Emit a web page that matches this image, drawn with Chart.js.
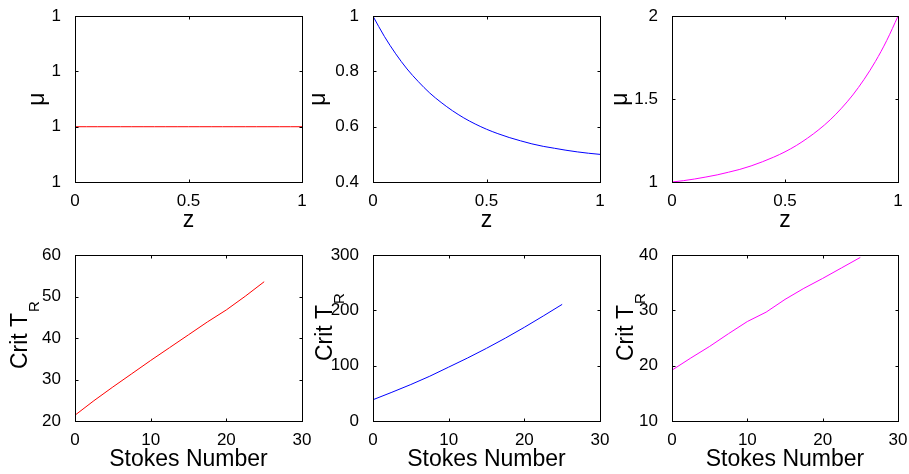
<!DOCTYPE html>
<html>
<head>
<meta charset="utf-8">
<script src="https://cdn.jsdelivr.net/npm/chart.js@4.4.1/dist/chart.umd.min.js"></script>
<style>
  body { margin: 0; background: #fff; }
  #wrap { position: relative; width: 909px; height: 474px; }
  #wrap canvas { position: absolute; }
</style>
</head>
<body>
<div id="wrap">
  <canvas id="muConstChart" width="313" height="234" style="left:0px;top:0px"></canvas>
  <canvas id="muDecayChart" width="313" height="234" style="left:298px;top:0px"></canvas>
  <canvas id="muGrowChart" width="312" height="234" style="left:597px;top:0px"></canvas>
  <canvas id="critRedChart" width="313" height="234" style="left:0px;top:239px"></canvas>
  <canvas id="critBlueChart" width="313" height="234" style="left:298px;top:239px"></canvas>
  <canvas id="critMagentaChart" width="312" height="234" style="left:597px;top:239px"></canvas>
</div>
<script>
// viscosity profiles mu(z)
var zVals = [0, 0.05, 0.1, 0.15, 0.2, 0.25, 0.3, 0.35, 0.4, 0.45, 0.5,
             0.55, 0.6, 0.65, 0.7, 0.75, 0.8, 0.85, 0.9, 0.95, 1];
var muConst = [1, 1, 1, 1, 1, 1, 1, 1, 1, 1, 1, 1, 1, 1, 1, 1, 1, 1, 1, 1, 1];
var muDecay = [1.000, 0.927, 0.864, 0.809, 0.763, 0.722, 0.688, 0.658, 0.632, 0.610, 0.591,
               0.575, 0.561, 0.549, 0.538, 0.529, 0.522, 0.515, 0.509, 0.504, 0.500];
var muGrow = [1.000, 1.008, 1.018, 1.030, 1.043, 1.059, 1.076, 1.097, 1.122, 1.150, 1.182,
              1.220, 1.265, 1.316, 1.375, 1.445, 1.525, 1.619, 1.727, 1.853, 2.000];

// critical T_R against Stokes number
var stokes = [0, 2.5, 5, 7.5, 10, 12.5, 15, 17.5, 20, 22.5, 25];
var critRed = [21.4, 24.9, 28.2, 31.4, 34.6, 37.7, 40.8, 43.9, 46.8, 50.1, 53.6];
var critBlue = [38.5, 52, 66, 81, 97.5, 114, 131.5, 150, 169.5, 190, 211];
var critMagenta = [19.2, 21.4, 23.5, 25.8, 28.0, 29.7, 32.0, 34.0, 35.8, 37.7, 39.6];

// tick values
var zTicks = [0, 0.5, 1];
var stokesTicks = [0, 10, 20, 30];
var muConstTicks = [0.9999, 1, 1.0001, 1.0002];
var muDecayTicks = [0.4, 0.6, 0.8, 1];
var muGrowTicks = [1, 1.5, 2];
var critRedTicks = [20, 30, 40, 50, 60];
var critBlueTicks = [0, 100, 200, 300];
var critMagentaTicks = [10, 20, 30, 40];

var FONT = '"Liberation Sans", Arial, Helvetica, sans-serif';

// axes box with inward tick marks on all four sides
var boxPlugin = {
  id: 'box',
  afterDraw: function (chart) {
    var ctx = chart.ctx, a = chart.chartArea;
    var sx = chart.scales.x, sy = chart.scales.y;
    var l = Math.round(a.left) + 0.5, r = Math.round(a.right) + 0.5;
    var t = Math.round(a.top) + 0.5, b = Math.round(a.bottom) + 0.5;
    ctx.save();
    ctx.strokeStyle = '#000';
    ctx.lineWidth = 1;
    ctx.beginPath();
    sx.ticks.forEach(function (tk) {
      var px = Math.round(sx.getPixelForValue(tk.value)) + 0.5;
      ctx.moveTo(px, b); ctx.lineTo(px, b - 3);
      ctx.moveTo(px, t); ctx.lineTo(px, t + 3);
    });
    sy.ticks.forEach(function (tk) {
      var py = Math.round(sy.getPixelForValue(tk.value)) + 0.5;
      ctx.moveTo(l, py); ctx.lineTo(l + 3, py);
      ctx.moveTo(r, py); ctx.lineTo(r - 3, py);
    });
    ctx.stroke();
    ctx.strokeRect(l, t, r - l, b - t);
    ctx.restore();
  }
};

// rotated y label, with optional subscript
var yTitlePlugin = {
  id: 'yTitle',
  afterDraw: function (chart, args, opts) {
    var ctx = chart.ctx, a = chart.chartArea;
    ctx.save();
    ctx.fillStyle = '#000';
    ctx.translate(a.left - opts.offset, (a.top + a.bottom) / 2 + (opts.dy || 0));
    ctx.rotate(-Math.PI / 2);
    ctx.textAlign = 'left';
    ctx.textBaseline = 'alphabetic';
    ctx.font = '23px ' + FONT;
    var w = ctx.measureText(opts.text).width;
    var sw = 0;
    if (opts.sub) {
      ctx.font = '15px ' + FONT;
      sw = ctx.measureText(opts.sub).width + 1;
    }
    var x0 = -(w + sw) / 2;
    ctx.font = '23px ' + FONT;
    ctx.fillText(opts.text, x0, 0);
    if (opts.sub) {
      ctx.font = '15px ' + FONT;
      ctx.fillText(opts.sub, x0 + w + 1, 12);
    }
    ctx.restore();
  }
};

function makeChart(id, xs, ys, color, xTicks, yTicks, xTitle, yTitle, smooth) {
  var pts = xs.map(function (x, i) { return { x: x, y: ys[i] }; });
  return new Chart(document.getElementById(id), {
    type: 'line',
    data: {
      datasets: [{
        data: pts,
        borderColor: color,
        borderWidth: 1,
        pointRadius: 0,
        fill: false,
        cubicInterpolationMode: smooth ? 'monotone' : 'default',
        tension: 0
      }]
    },
    options: {
      responsive: false,
      animation: false,
      layout: { padding: { top: 11, right: 11, left: 0, bottom: 0 } },
      plugins: {
        legend: { display: false },
        tooltip: { enabled: false },
        yTitle: yTitle
      },
      scales: {
        x: {
          type: 'linear',
          min: xTicks[0],
          max: xTicks[xTicks.length - 1],
          grid: { display: false },
          border: { display: false },
          afterBuildTicks: function (s) { s.ticks = xTicks.map(function (v) { return { value: v }; }); },
          afterFit: function (s) { s.height = 52; },
          ticks: {
            color: '#000',
            padding: 1,
            maxRotation: 0,
            font: { family: FONT, size: 17 },
            callback: function (v) { return +v.toFixed(3); }
          },
          title: {
            display: true,
            text: xTitle,
            color: '#000',
            padding: 0,
            font: { family: FONT, size: 23 }
          }
        },
        y: {
          type: 'linear',
          min: yTicks[0],
          max: yTicks[yTicks.length - 1],
          grid: { display: false },
          border: { display: false },
          afterBuildTicks: function (s) { s.ticks = yTicks.map(function (v) { return { value: v }; }); },
          afterFit: function (s) { s.width = 75; },
          ticks: {
            color: '#000',
            padding: 6,
            font: { family: FONT, size: 17 },
            callback: function (v) { return +v.toFixed(3); }
          }
        }
      }
    },
    plugins: [boxPlugin, yTitlePlugin]
  });
}

var muLabel1 = { text: '\u03bc', offset: 31 };
var muLabel2 = { text: '\u03bc', offset: 48 };
var muLabel3 = { text: '\u03bc', offset: 45 };

makeChart('muConstChart', zVals, muConst, '#ff0000', zTicks, muConstTicks, 'z', muLabel1, true);
makeChart('muDecayChart', zVals, muDecay, '#0000ff', zTicks, muDecayTicks, 'z', muLabel2, true);
makeChart('muGrowChart', zVals, muGrow, '#ff00ff', zTicks, muGrowTicks, 'z', muLabel3, true);

makeChart('critRedChart', stokes, critRed, '#ff0000', stokesTicks, critRedTicks, 'Stokes Number',
  { text: 'Crit T', sub: 'R', offset: 48, dy: -3 }, false);
makeChart('critBlueChart', stokes, critBlue, '#0000ff', stokesTicks, critBlueTicks, 'Stokes Number',
  { text: 'Crit T', sub: 'R', offset: 41, dy: -11 }, false);
makeChart('critMagentaChart', stokes, critMagenta, '#ff00ff', stokesTicks, critMagentaTicks, 'Stokes Number',
  { text: 'Crit T', sub: 'R', offset: 39, dy: -11 }, false);
</script>
</body>
</html>
